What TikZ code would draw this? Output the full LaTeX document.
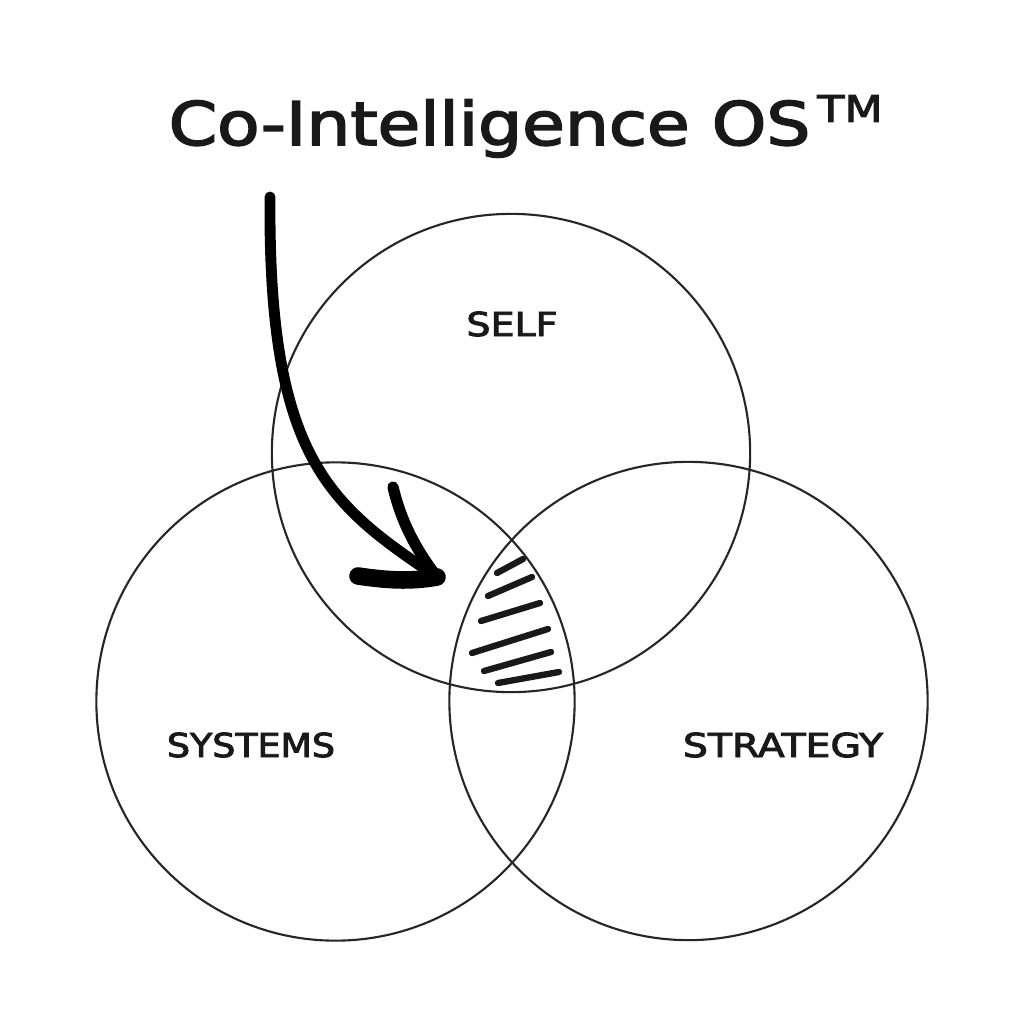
\documentclass[tikz,border=0pt]{standalone}
\usepackage{fontspec}
\setmainfont{DejaVu Sans}
\newfontfamily\handfont{DejaVu Sans}[FakeBold=2.6]
\begin{document}
\begin{tikzpicture}[x=0.01cm,y=-0.01cm,
  venn/.style={circle, draw=black!85, line width=0.6pt, minimum size=4.78cm, inner sep=0pt},
  lbl/.style={inner sep=0pt, text=black!90, font=\handfont\fontsize{9.4pt}{11pt}\selectfont},
  shaft/.style={line width=3.1pt, line cap=round, draw=black},
  barb/.style={line cap=round, draw=black},
  hatchline/.style={line width=1.8pt, line cap=round, draw=black!90}]
\fill[white] (0,0) rectangle (1024,1024);
\useasboundingbox (0,0) rectangle (1024,1024);

% circles
\node[venn] (self) at (511,453) {};
\node[venn] (systems) at (335.5,701.5) {};
\node[venn] (strategy) at (688.5,701) {};

% labels
\node[lbl] (selflabel) at (512,324) {\scalebox{1.15}[1]{SELF}};
\node[lbl] (systemslabel) at (251,745) {\scalebox{1.1}[1]{SYSTEMS}};
\node[lbl] (strategylabel) at (783,745) {\scalebox{1.19}[1]{STRATEGY}};

% title
\node[anchor=base west, inner sep=0pt, text=black!90] (title) at (168,145)
  {\handfont\fontsize{17.07pt}{20pt}\selectfont\scalebox{1.156}[1]{Co-Intelligence OS}\hspace{0.07cm}\raisebox{0.23cm}{\fontsize{10.5pt}{12pt}\selectfont\scalebox{1.2}[1]{TM}}};

% arrow
\coordinate (arrowtail) at (270,197);
\coordinate (arrowtip) at (437,577);
\coordinate (barbA) at (393,487);
\coordinate (barbB) at (358,576);
\draw[shaft] (arrowtail) .. controls (268,460) and (330,505) .. (arrowtip);
\draw[barb, line width=3.2pt] (barbA) .. controls (402,525) and (418,552) .. (arrowtip);
\draw[barb, line width=5pt] (barbB) .. controls (385,580) and (410,582) .. (arrowtip);

% hatching
\draw[hatchline] (497,573) -- (523,559);
\draw[hatchline] (488,596) -- (532,577);
\draw[hatchline] (481,621) -- (540,603);
\draw[hatchline] (472,653) -- (548,629);
\draw[hatchline] (484,671) -- (551,652);
\draw[hatchline] (498,683) -- (559,672);
\end{tikzpicture}
\end{document}
